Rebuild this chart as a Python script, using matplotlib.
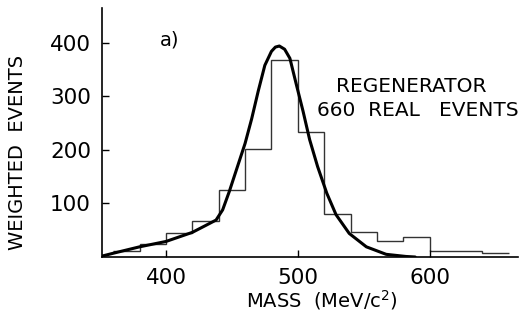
import matplotlib
matplotlib.use("Agg")
import matplotlib.pyplot as plt

# Histogram (20 MeV bins)
bin_edges = [360, 380, 400, 420, 440, 460, 480, 500, 520, 540, 560, 580, 600, 620, 640, 660]
bin_counts = [12, 24, 45, 68, 125, 201, 368, 234, 80, 47, 30, 37, 11, 11, 7]

# Fitted curve, points
curve_x = [352, 360, 380, 400, 420, 431, 438, 443, 448, 452, 456, 460, 465, 470, 475, 480,
           483, 486, 490, 494, 499, 504, 509, 515, 522, 529, 539, 552, 567, 582, 589]
curve_y = [2, 7, 19, 29, 46, 60, 69, 88, 122, 152, 182, 212, 258, 310, 358, 384,
           392, 394, 388, 371, 321, 272, 219, 169, 119, 79, 44, 19, 5, 1, 0]

x_ticks = [400, 500, 600]
y_ticks = [100, 200, 300, 400]

fig = plt.figure(figsize=(5.21, 3.20), dpi=100)
ax = fig.add_axes([102/521, 1-257/320, (518-102)/521, (257-8)/320])

ax.stairs(bin_counts, bin_edges, baseline=None, color='#333333', linewidth=1.0)
ax.plot(curve_x, curve_y, color='black', linewidth=2.2, solid_capstyle='round')

ax.set_xlim(351.5, 667)
ax.set_ylim(0, 465)
ax.set_xticks(x_ticks)
ax.set_yticks(y_ticks)
ax.tick_params(direction='in', length=5, width=1, labelsize=15.5, pad=8)
ax.spines['top'].set_visible(False)
ax.spines['right'].set_visible(False)
ax.spines['left'].set_linewidth(1.2)
ax.spines['bottom'].set_linewidth(1.2)

ax.set_xlabel('MASS  (MeV/c$^2$)', fontsize=14)
ax.xaxis.set_label_coords(0.529, -0.125)
ax.set_ylabel('WEIGHTED  EVENTS', fontsize=14)
ax.yaxis.set_label_coords(-0.18, 0.42)

ax.text(403, 405, 'a)', fontsize=14, ha='center', va='center')
ax.text(586, 318, 'REGENERATOR', fontsize=14.5, ha='center', va='center')
ax.text(591, 273, '660  REAL   EVENTS', fontsize=14.5, ha='center', va='center')

fig.savefig('out.png', dpi=100)
